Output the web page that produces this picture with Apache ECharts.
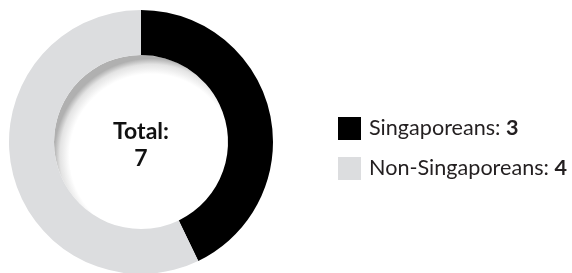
<!DOCTYPE html>
<html>
<head>
<meta charset="utf-8">
<script src="https://cdn.jsdelivr.net/npm/echarts@6/dist/echarts.min.js"></script>
<style>
html,body{margin:0;padding:0;background:#fff;}
#chart{width:572px;height:273px;}
</style>
</head>
<body>
<div id="chart"></div>
<script>
const categories = ['Singaporeans', 'Non-Singaporeans'];
const values = [3, 4];
const colors = ['#000000', '#dcdddf'];
const totalLabel = 'Total:';

const total = values.reduce((a, b) => a + b, 0);
const chart = echarts.init(document.getElementById('chart'));
const valueMap = {};
categories.forEach((c, i) => valueMap[c] = values[i]);

chart.setOption({
  animation: false,
  color: colors,
  legend: {
    orient: 'vertical',
    left: 338,
    top: 117,
    padding: 0,
    icon: 'rect',
    itemWidth: 23,
    itemHeight: 23,
    itemGap: 17,
    selectedMode: false,
    data: categories,
    formatter: name => '{n|' + name + ': }{v|' + valueMap[name] + '}',
    textStyle: {
      padding: [0, 0, 0, 3],
      rich: {
        n: { fontFamily: 'Lato', fontSize: 21.6, lineHeight: 23, color: '#231f20' },
        v: { fontFamily: 'Lato', fontSize: 21.6, lineHeight: 23, fontWeight: 'bold', color: '#231f20' }
      }
    }
  },
  graphic: [{
    type: 'text',
    x: 141,
    y: 145,
    style: {
      text: totalLabel + '\n' + total,
      align: 'center',
      verticalAlign: 'middle',
      fontFamily: 'Lato',
      fontWeight: 'bold',
      fontSize: 23,
      lineHeight: 27,
      fill: '#111'
    },
    z: 100
  }],
  series: [
    {
      type: 'pie',
      center: [141, 142],
      radius: [0, 87],
      silent: true,
      label: { show: false },
      labelLine: { show: false },
      itemStyle: {
        color: {
          type: 'radial', x: 0.56, y: 0.58, r: 0.56,
          colorStops: [
            { offset: 0, color: '#ffffff' },
            { offset: 0.84, color: '#ffffff' },
            { offset: 0.94, color: '#e3e3e3' },
            { offset: 1, color: '#b0b0b0' }
          ]
        }
      },
      data: [{ value: 1, name: '_hole' }],
      legendHoverLink: false,
      z: 1
    },
    {
      type: 'pie',
      center: [141, 142],
      radius: [87, 132],
      startAngle: 90,
      clockwise: true,
      silent: true,
      label: { show: false },
      labelLine: { show: false },
      itemStyle: { borderWidth: 0 },
      data: categories.map((c, i) => ({ name: c, value: values[i], itemStyle: { color: colors[i] } })),
      z: 2
    }
  ]
});
</script>
</body>
</html>
